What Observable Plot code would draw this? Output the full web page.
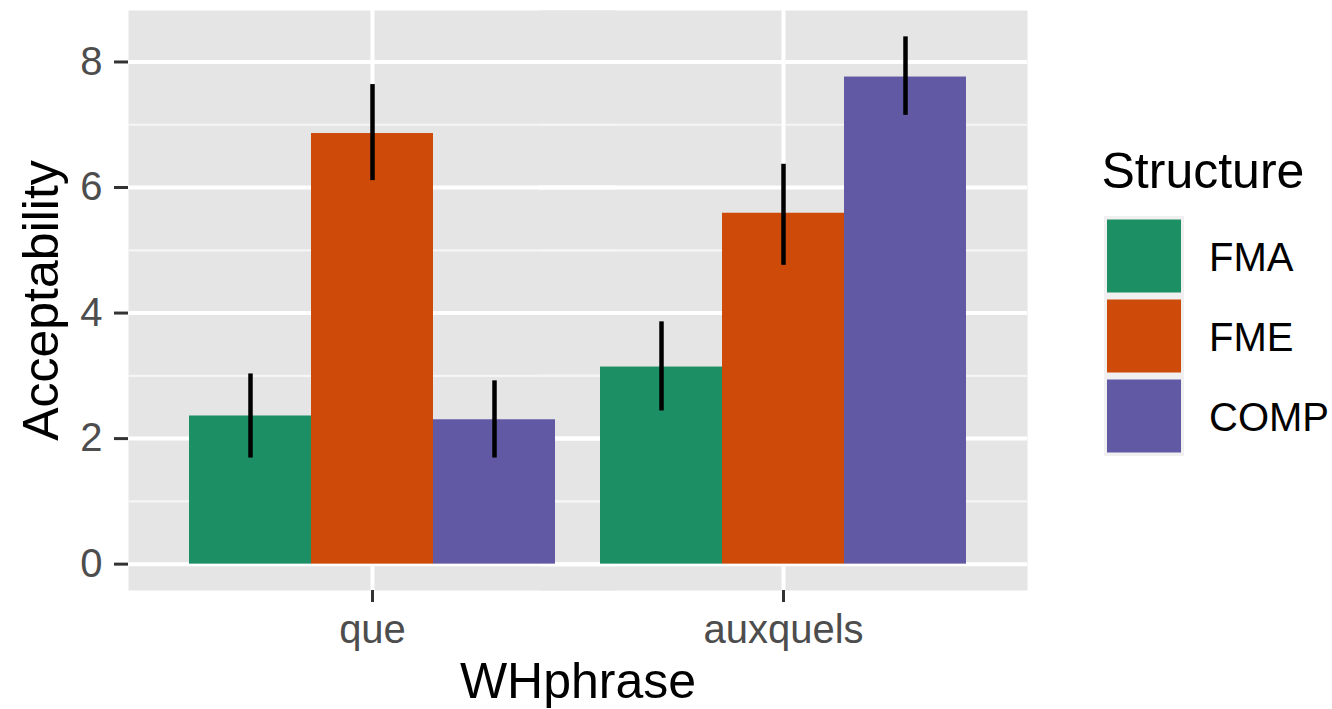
<!DOCTYPE html>
<html>
<head>
<meta charset="utf-8">
<script src="https://cdn.jsdelivr.net/npm/d3@7"></script>
<script src="https://cdn.jsdelivr.net/npm/@observablehq/plot@0.6"></script>
<style>
  body { margin: 0; background: #ffffff; }
  #wrap { position: relative; width: 1332px; height: 709px; overflow: hidden; font-family: "Liberation Sans", Arial, sans-serif; }
  #wrap > svg.chart { position: absolute; left: 0; top: 0; }
  #legend { position: absolute; left: 1100px; top: 0; }
</style>
</head>
<body>
<div id="wrap"></div>
<script>
// ---- data ----
const groups = ["que", "auxquels"];
const structures = ["FMA", "FME", "COMP"];
const colors = ["#1d8f65", "#cd4a08", "#6259a4"];
const queMean = [2.36, 6.86, 2.30];
const queLow  = [1.69, 6.11, 1.69];
const queHigh = [3.03, 7.64, 2.92];
const auxMean = [3.14, 5.59, 7.76];
const auxLow  = [2.44, 4.76, 7.15];
const auxHigh = [3.86, 6.37, 8.40];
const yMajor = [0, 2, 4, 6, 8];
const yMinor = [1, 3, 5, 7];
const xTitle = "WHphrase";
const yTitle = "Acceptability";
const legendTitle = "Structure";

const rows = [];
structures.forEach((s, i) => {
  rows.push({WHphrase: "que", Structure: s, mean: queMean[i], low: queLow[i], high: queHigh[i]});
  rows.push({WHphrase: "auxquels", Structure: s, mean: auxMean[i], low: auxLow[i], high: auxHigh[i]});
});

// ggplot-style 5% expansion of the y range
const yMax = d3.max(rows, d => d.high);
const yMinData = 0;
const ext = (yMax - yMinData) * 0.05;

const font = "Liberation Sans, Arial, sans-serif";

// layout
const W = 1332, H = 709, mL = 128, mR = 304, mT = 10, mB = 119;
const padIn = 0.1045, padOut = 0.1458;
const panelW = W - mL - mR;
const step = panelW / (groups.length - padIn + 2 * padOut);
const outerPx = step * padOut;
const innerLeft = mL + outerPx; // left edge of the first facet

const chart = Plot.plot({
  width: W,
  height: H,
  marginLeft: mL,
  marginRight: mR,
  marginTop: mT,
  marginBottom: mB,
  style: {fontFamily: font, background: "transparent", overflow: "visible"},
  fx: {domain: groups, paddingInner: padIn, paddingOuter: padOut, axis: null, label: null},
  x: {domain: structures, padding: 0, axis: null},
  y: {domain: [yMinData - ext, yMax + ext], axis: null},
  color: {domain: structures, range: colors},
  marks: [
    Plot.frame({fill: "#e5e5e5", stroke: null, insetLeft: -outerPx, insetRight: -outerPx}),
    Plot.ruleY(yMinor, {stroke: "#f5f5f5", strokeWidth: 2.2, insetLeft: -outerPx, insetRight: -outerPx}),
    Plot.ruleY(yMajor, {stroke: "#ffffff", strokeWidth: 4, insetLeft: -outerPx, insetRight: -outerPx}),
    Plot.gridFx({stroke: "#ffffff", strokeOpacity: 1, strokeWidth: 4}),
    Plot.barY(rows, {fx: "WHphrase", x: "Structure", y: "mean", fill: "Structure"}),
    Plot.ruleX(rows, {fx: "WHphrase", x: "Structure", y1: "low", y2: "high", stroke: "#000000", strokeWidth: 4.5}),
    Plot.axisY(yMajor, {anchor: "left", dx: -outerPx, tickSize: 14, tickPadding: 12, fontSize: 40, stroke: "#333333", fill: "#4d4d4d", strokeWidth: 3, label: null, tickFormat: d => String(d)}),
    Plot.axisFx({anchor: "bottom", tickSize: 12, tickPadding: 12, fontSize: 40, stroke: "#333333", fill: "#4d4d4d", strokeWidth: 3, label: null}),
    Plot.text([xTitle], {facet: "super", text: d => d, frameAnchor: "bottom", dy: 107, lineAnchor: "bottom", textAnchor: "middle", fontSize: 50, fill: "#000000"}),
    Plot.text([yTitle], {facet: "super", text: d => d, frameAnchor: "left", dx: 57 - innerLeft, rotate: -90, lineAnchor: "bottom", textAnchor: "middle", fontSize: 50, fill: "#000000"})
  ]
});
chart.classList.add("chart");
document.getElementById("wrap").appendChild(chart);

// ---- legend (built from the plot's color scale) ----
const cs = chart.scale("color");
const lg = d3.select("#wrap").append("svg")
  .attr("id", "legend")
  .attr("width", 232).attr("height", 709)
  .style("font-family", font);
lg.append("text").attr("x", 1.5).attr("y", 188)
  .attr("font-size", 50).attr("fill", "#000").text(legendTitle);
const keyTop = 216, keySize = 80;
lg.append("rect").attr("x", 4).attr("y", keyTop)
  .attr("width", keySize).attr("height", keySize * cs.domain.length).attr("fill", "#f0f0f0");
cs.domain.forEach((d, i) => {
  lg.append("rect").attr("x", 7).attr("y", keyTop + i * keySize + 3.5)
    .attr("width", 74).attr("height", 73).attr("fill", cs.range[i]);
  lg.append("text").attr("x", 109).attr("y", keyTop + i * keySize + 55)
    .attr("font-size", 40).attr("fill", "#000").text(d);
});
</script>
</body>
</html>
